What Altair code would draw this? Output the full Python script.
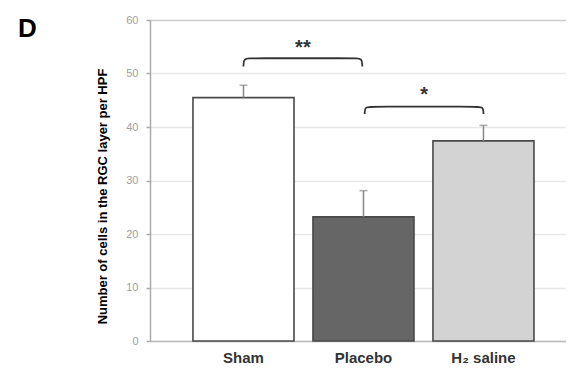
import altair as alt
import pandas as pd

# ---- data ----
groups = ["Sham", "Placebo", "H₂ saline"]
means = [45.5, 23.2, 37.4]
errors = [2.3, 4.9, 2.9]
fills = ["#ffffff", "#666666", "#d3d3d3"]

y_ticks = [0, 5, 10, 15, 20, 25, 30, 35, 40, 45, 50, 55, 60]

bracket_from = [0, 1.01]
bracket_to = [0.99, 2]
bracket_top = [52.85, 43.8]
bracket_leg = [51.3, 42.45]
bracket_labels = ["**", "*"]
bracket_label_y = [55.5, 46.7]

# ---- layout ----
W, H = 416, 321
P_INNER, P_OUTER, ALIGN = 0.158, 0.3125, 0.573
FONT = "Liberation Sans"

n = len(groups)
step = W / (n - P_INNER + 2 * P_OUTER)
start = (W - step * (n - P_INNER)) * ALIGN
c0 = start + step * (1 - P_INNER) / 2
lin_domain = [-c0 / step, (W - c0) / step]

bars = pd.DataFrame({"group": groups, "mean": means, "err": errors, "fill": fills})

r = 0.065
pts = []
for b in range(len(bracket_from)):
    a, z, t, l = bracket_from[b], bracket_to[b], bracket_top[b], bracket_leg[b]
    seq = [(a, l), (a, t), (a + r, t), (z - r, t), (z, t), (z, l)]
    for k, (xx, yy) in enumerate(seq):
        pts.append({"b": b, "k": k, "xi": xx, "y": yy})
br = pd.DataFrame(pts)
lab = pd.DataFrame({
    "xi": [(bracket_from[i] + bracket_to[i]) / 2 for i in range(len(bracket_labels))],
    "y": bracket_label_y,
    "t": bracket_labels,
})

xband = alt.Scale(domain=groups, paddingInner=P_INNER, paddingOuter=P_OUTER, align=ALIGN)
yscale = alt.Scale(domain=[0, 60], nice=False)
major = "datum.value % 10 == 0"

base = alt.Chart(bars)

bar = base.mark_bar(stroke="#4a4a4a", strokeWidth=1.6).encode(
    x=alt.X("group:N", scale=xband, sort=groups,
            axis=alt.Axis(title=None, labelAngle=0, ticks=False, labelFont=FONT,
                          labelFontSize=15, labelFontWeight="bold", labelColor="#333333",
                          labelPadding=9, domainColor="#bbbbbb", domainWidth=1.5)),
    y=alt.Y("mean:Q", scale=yscale,
            axis=alt.Axis(values=y_ticks, title="Number of cells in the RGC layer per HPF",
                          titleFont=FONT, titleFontSize=13, titleFontWeight="bold",
                          titleColor="#000000", titleX=-48, titleY=176,
                          titleAlign="center", titleBaseline="middle",
                          labelExpr=f"{major} ? datum.label : ''",
                          labelFont=FONT, labelFontSize=11, labelColor="#a0a0a0",
                          labelPadding=8,
                          tickSize={"condition": {"test": major, "value": 4}, "value": 2.5},
                          tickColor="#aaaaaa", tickWidth=1.5,
                          domainColor="#aaaaaa", domainWidth=1.5,
                          grid=True, gridWidth=1.5,
                          gridOpacity={"condition": {"test": major, "value": 1}, "value": 0},
                          gridColor={"condition": {"test": "datum.value == 60", "value": "#cccccc"},
                                     "value": "#e8e8e8"})),
    color=alt.Color("fill:N", scale=None),
)

err = base.transform_calculate(top="datum.mean + datum.err").mark_rule(
    color="#888888", strokeWidth=1.5).encode(
    x=alt.X("group:N", scale=xband, sort=groups),
    y=alt.Y("mean:Q", scale=yscale),
    y2="top:Q",
)

cap = base.transform_calculate(top="datum.mean + datum.err").mark_tick(
    color="#888888", size=8, thickness=1.5).encode(
    x=alt.X("group:N", scale=xband, sort=groups),
    y=alt.Y("top:Q", scale=yscale),
)

xlin = alt.Scale(domain=lin_domain, nice=False, zero=False)

brk = alt.Chart(br).mark_line(color="#333333", strokeWidth=1.8, interpolate="basis").encode(
    x=alt.X("xi:Q", scale=xlin, axis=None),
    y=alt.Y("y:Q", scale=yscale),
    detail="b:N",
    order="k:Q",
)

txt = alt.Chart(lab).mark_text(font=FONT, fontSize=20, fontWeight="bold", color="#333333",
                               baseline="middle", dy=4).encode(
    x=alt.X("xi:Q", scale=xlin, axis=None),
    y=alt.Y("y:Q", scale=yscale),
    text="t:N",
)

bands = alt.layer(bar, err, cap)
chart = alt.layer(bands, brk, txt).resolve_scale(x="independent").properties(
    width=W, height=H,
    autosize=alt.AutoSizeParams(type="none"),
    padding={"left": 142, "top": 12, "right": 0, "bottom": 26},
    title=alt.Title("D", anchor="start", frame="group", dx=-132, dy=49, offset=0,
                    fontSize=26, fontWeight="bold", font=FONT, color="#000000",
                    baseline="alphabetic"),
).configure_view(stroke=None)

chart.save("out.html", embed_options={"renderer": "svg", "actions": False})
